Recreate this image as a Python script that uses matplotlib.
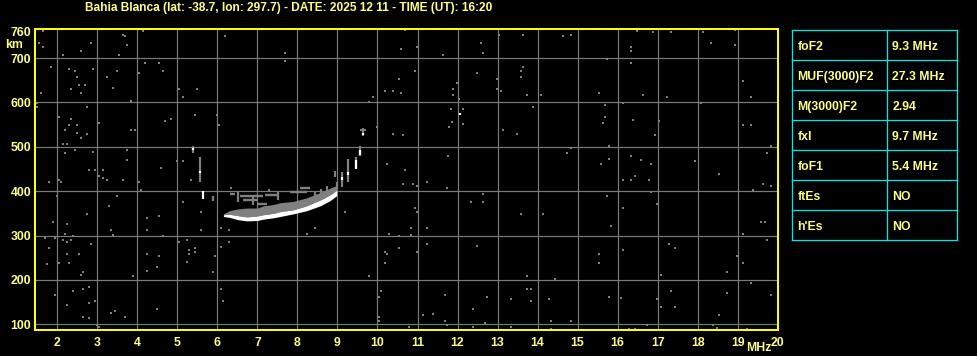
import matplotlib
matplotlib.use("Agg")
import matplotlib.pyplot as plt
from matplotlib.lines import Line2D

# ---------------- data ----------------
title = "Bahia Blanca (lat: -38.7, lon: 297.7) - DATE: 2025 12 11 - TIME (UT): 16:20"
x_ticks = [2, 3, 4, 5, 6, 7, 8, 9, 10, 11, 12, 13, 14, 15, 16, 17, 18, 19, 20]
y_ticks = [100, 200, 300, 400, 500, 600, 700, 760]
x_grid = [2, 3, 4, 5, 6, 7, 8, 9, 10, 11, 12, 13, 14, 15, 16, 17, 18, 19]
y_grid = [100, 200, 300, 400, 500, 600, 700]

table_params = ["foF2", "MUF(3000)F2", "M(3000)F2", "fxI", "foF1", "ftEs", "h'Es"]
table_values = ["9.3 MHz", "27.3 MHz", "2.94", "9.7 MHz", "5.4 MHz", "NO", "NO"]

# main (strong) F-trace: frequency, lower and upper virtual height (km)
trace_f = [6.15, 6.30, 6.50, 6.73, 7.00, 7.15, 7.40, 7.57, 7.90, 8.23, 8.57, 8.82, 8.98]
trace_lo = [343, 341, 336, 333, 334, 337, 340, 343, 349, 356, 367, 379, 390]
trace_hi = [347, 348, 345, 342, 344, 347, 350, 354, 358, 367, 380, 392, 402]
halo_hi = [349, 356, 360, 362, 362, 367, 370, 374, 377, 385, 397, 407, 413]

# weak horizontal echo dashes
dash_f0 = [6.32, 6.57, 6.64, 7.19, 7.82, 8.07, 7.00]
dash_f1 = [6.44, 7.15, 7.00, 7.49, 8.24, 8.32, 7.25]
dash_h = [393, 390, 380, 392, 399, 408, 372]

# vertical echo stripes (gray)
stripe_f = [5.39, 5.57, 5.90, 6.52, 6.90, 7.52, 8.44, 8.60, 8.73, 8.98, 8.93, 9.12, 9.27, 9.47, 9.57, 9.64]
stripe_h0 = [485, 421, 378, 376, 368, 380, 371, 385, 390, 405, 431, 410, 421, 451, 480, 524]
stripe_h1 = [501, 478, 389, 398, 390, 400, 398, 405, 412, 420, 446, 444, 473, 478, 503, 542]

# strong (white) echo fragments
white_f = [5.39, 5.57, 5.65, 9.12, 9.27, 9.47, 9.57, 9.64, 12.07]
white_h0 = [492, 440, 383, 425, 437, 451, 482, 526, 572]
white_h1 = [497, 446, 401, 433, 443, 470, 492, 532, 576]

# scattered noise dots
noise_f = [1.64, 1.54, 1.64, 2.14, 2.59, 2.84, 3.64, 3.69, 3.74, 3.54, 4.14, 6.19,
           1.84, 2.29, 2.44, 2.49, 2.89, 3.24, 3.49, 2.34, 2.54, 2.69, 2.59, 3.39, 1.59,
           4.19, 4.54, 4.64, 4.04, 5.04, 5.14, 5.49, 1.49, 1.49, 2.74, 2.04, 2.34, 2.49,
           2.29, 2.19, 2.49, 2.74, 2.59, 3.04, 3.84, 3.84, 3.94, 4.69, 4.84, 5.44, 5.99,
           6.04, 2.14, 2.24, 2.19, 2.44, 2.89, 3.74, 3.74, 2.79, 2.94, 3.14, 3.04, 3.14,
           4.59, 4.99, 5.14,
           7.69, 7.69, 10.69, 10.59, 10.99, 11.64, 13.04, 12.59, 12.64, 13.64, 10.94, 10.54,
           10.19, 10.39, 10.59, 9.89, 9.79, 12.49, 11.99, 11.89, 11.89, 12.04, 12.99, 12.99,
           13.09, 13.59, 13.64, 13.59, 13.74, 11.84, 12.14, 12.04, 11.87, 12.14, 11.79,
           10.64, 10.39, 9.99, 9.59, 9.69, 13.14, 13.49, 11.77, 10.24, 10.69,
           14.64, 14.84, 16.49, 16.89, 17.34, 18.14, 18.94, 18.34, 18.94, 16.34, 16.34,
           15.74, 16.34, 14.09, 15.54, 16.64, 17.24, 19.14, 19.34, 13.89, 15.69, 16.14,
           15.69, 15.64, 16.39, 17.04, 16.94, 18.09, 19.14, 19.34, 14.84, 14.74, 15.79,
           15.79, 15.59, 16.34, 16.59, 16.84, 16.44, 17.94, 18.54, 19.84, 19.74,
           1.79, 2.04, 2.09, 3.24, 3.64, 4.04, 4.09, 3.49, 3.29, 2.74, 1.99, 1.89, 2.24,
           2.19, 1.69, 1.94, 2.14, 2.24, 2.34, 2.39, 1.79, 2.84, 2.24, 2.54, 2.04, 2.29,
           1.74, 2.64, 2.59, 3.34, 3.39, 4.24, 4.54, 4.24, 4.64, 4.24, 4.54, 4.49, 4.24,
           3.89, 5.14, 5.59, 5.59, 5.34, 5.04, 5.24, 5.29, 5.29, 5.44, 5.44, 5.24, 5.94,
           5.89, 6.09, 6.09, 6.29, 6.29, 1.94, 2.39, 2.64, 2.79, 2.79, 2.94, 2.24, 2.64,
           2.79, 2.99, 3.04, 3.34, 3.44, 3.69, 4.49, 6.09, 6.14, 6.34, 7.29,
           10.64, 10.89, 11.24, 10.99, 11.74, 12.64, 12.34, 12.64, 13.59, 10.94, 10.99,
           9.19, 8.44, 8.24, 10.84, 11.24, 10.29, 10.54, 10.84, 11.24, 10.54, 10.19, 10.24,
           10.19, 10.99, 12.49, 9.79, 10.09, 10.04, 10.04, 10.04, 10.79, 11.14, 11.39,
           11.69, 11.69, 11.74, 12.39, 12.39, 12.69, 12.74, 13.34, 13.34, 13.74, 13.74,
           16.14, 16.34, 16.79, 16.84, 16.99, 15.74, 16.14, 14.14, 15.84, 19.64, 19.84,
           19.39, 19.59, 19.69, 19.14, 19.74, 17.29, 17.44, 16.14, 15.54, 15.54, 18.99,
           19.14, 18.74, 17.09, 14.44, 19.34, 17.34, 18.74, 19.84, 14.29, 13.84, 13.84,
           15.79, 16.09, 16.99, 17.09, 17.44, 18.54, 14.34, 14.84, 14.34, 16.29, 16.44,
           16.74, 18.39, 18.49, 19.24]
noise_h = [762, 735, 726, 707, 717, 735, 753, 749, 730, 707, 762, 749,
           680, 676, 670, 657, 676, 657, 671, 630, 639, 639, 621, 632, 621,
           689, 689, 671, 667, 630, 612, 630, 599, 590, 589, 567, 562, 549,
           549, 537, 532, 530, 521, 553, 603, 539, 539, 558, 562, 571, 571,
           549, 507, 507, 485, 494, 489, 494, 471, 448, 448, 448, 435, 430,
           453, 469, 467,
           711, 694, 763, 721, 726, 707, 753, 735, 712, 753, 671, 653,
           626, 626, 621, 612, 601, 667, 644, 630, 617, 607, 653, 630,
           626, 671, 680, 657, 617, 585, 585, 573, 555, 551, 544,
           526, 530, 544, 539, 539, 539, 530, 480, 462, 448,
           749, 753, 762, 758, 758, 758, 763, 735, 730, 726, 717,
           698, 689, 617, 621, 617, 612, 648, 612, 589, 594, 598,
           567, 553, 560, 558, 526, 598, 549, 549, 498, 485, 503,
           473, 462, 480, 471, 462, 435, 467, 439, 503, 485,
           421, 426, 421, 426, 426, 421, 403, 389, 367, 348, 389, 330, 326,
           303, 294, 294, 289, 285, 289, 298, 271, 280, 258, 258, 237, 239,
           235, 217, 212, 312, 301, 339, 344, 312, 298, 258, 253, 230, 221,
           208, 376, 353, 312, 426, 285, 289, 267, 258, 271, 262, 241, 253,
           217, 317, 274, 312, 285, 167, 176, 180, 185, 148, 153, 144, 117,
           114, 98, 94, 126, 130, 117, 135, 180, 153, 407, 403,
           417, 417, 421, 412, 408, 394, 376, 376, 348, 362, 353,
           353, 317, 303, 317, 317, 303, 298, 301, 280, 271, 262, 258,
           239, 262, 276, 208, 176, 162, 117, 108, 94, 121, 123,
           167, 108, 98, 135, 94, 103, 162, 158, 94, 208, 180,
           426, 426, 426, 398, 371, 389, 362, 348, 321, 417, 412,
           403, 330, 330, 303, 289, 280, 271, 267, 258, 239, 253,
           239, 217, 212, 203, 194, 176, 171, 167, 158, 153, 180,
           162, 160, 158, 139, 139, 121, 108, 108, 89, 89, 89,
           98, 98, 92, 89]

# ---------------- style ----------------
W, H, DPI = 978, 356, 100
BG = "#000000"
FRAME = "#ffff00"
TXT = "#ffff80"
GRID = "#7a7a7a"
NOISE = "#808080"
CYAN = "#00e8e8"
FONT = ["Liberation Sans", "DejaVu Sans"]
FS = 8.8
FS_T = 8.6
PX = 72.0 / DPI  # one pixel in points

fig = plt.figure(figsize=(W / DPI, H / DPI), dpi=DPI, facecolor=BG)
L, R, T, B = 35.3, 777.7, 29.3, 330.3
ax = fig.add_axes([L / W, 1 - B / H, (R - L) / W, (B - T) / H], facecolor=BG)
ax.set_xlim(1.45, 20.0)
ax.set_ylim(86.4, 765.0)

for g in x_grid:
    ax.axvline(g, color=GRID, lw=1.2 * PX, zorder=1)
for g in y_grid:
    ax.axhline(g, color=GRID, lw=1.2 * PX, zorder=1)

# noise
ax.scatter(noise_f, noise_h, marker="s", s=(2 * PX) ** 2, color=NOISE,
           linewidths=0, zorder=2)

# gray echoes
ax.fill_between(trace_f, trace_hi, halo_hi, color=NOISE, lw=0, zorder=3)
ax.hlines(dash_h, dash_f0, dash_f1, color=NOISE, lw=2.4 * PX, zorder=3)
ax.vlines(stripe_f, stripe_h0, stripe_h1, color=NOISE, lw=2.2 * PX, zorder=3)

# strong echoes
ax.fill_between(trace_f, trace_lo, trace_hi, color="#ffffff", lw=0, zorder=4)
ax.vlines(white_f, white_h0, white_h1, color="#ffffff", lw=2.2 * PX, zorder=4)

# frame
for s in ax.spines.values():
    s.set_color(FRAME)
    s.set_linewidth(2 * PX)
    s.set_zorder(6)

ax.set_xticks(x_ticks)
ax.set_xticklabels([str(v) for v in x_ticks])
ax.set_yticks(y_ticks)
ax.set_yticklabels([str(v) for v in y_ticks])
ax.tick_params(length=0, colors=TXT, labelsize=FS)
ax.tick_params(axis="x", pad=5)
ax.tick_params(axis="y", pad=3)
for lab in ax.get_xticklabels() + ax.get_yticklabels():
    lab.set_fontfamily(FONT)
    lab.set_fontweight("bold")

fig.text(5 / W, 1 - 45 / H, "km", color=TXT, fontsize=FS, fontweight="bold",
         family=FONT, ha="left", va="center")
fig.text(772 / W, 1 - 348 / H, "MHz", color=TXT, fontsize=FS, fontweight="bold",
         family=FONT, ha="right", va="center")
fig.text(289 / W, 1 - 7.5 / H, title, color=TXT, fontsize=FS_T, fontweight="bold",
         family=FONT, ha="center", va="center")

# parameter table
tx0, tx1, tdiv = 792.3, 957.3, 887.3
ty0, rowh = 30.3, 30.0
n = len(table_params)
for i in range(n + 1):
    y = 1 - (ty0 + i * rowh) / H
    fig.add_artist(Line2D([tx0 / W, tx1 / W], [y, y], color=CYAN, lw=1.3 * PX))
for xv in (tx0, tdiv, tx1):
    fig.add_artist(Line2D([xv / W, xv / W], [1 - ty0 / H, 1 - (ty0 + n * rowh) / H],
                          color=CYAN, lw=1.3 * PX))
for i, (p, v) in enumerate(zip(table_params, table_values)):
    yc = 1 - (ty0 + (i + 0.55) * rowh) / H
    fig.text(797.5 / W, yc, p, color=TXT, fontsize=FS, fontweight="bold",
             family=FONT, ha="left", va="center")
    fig.text(892.5 / W, yc, v, color=TXT, fontsize=FS, fontweight="bold",
             family=FONT, ha="left", va="center")

fig.savefig("out.png", dpi=DPI, facecolor=BG)
